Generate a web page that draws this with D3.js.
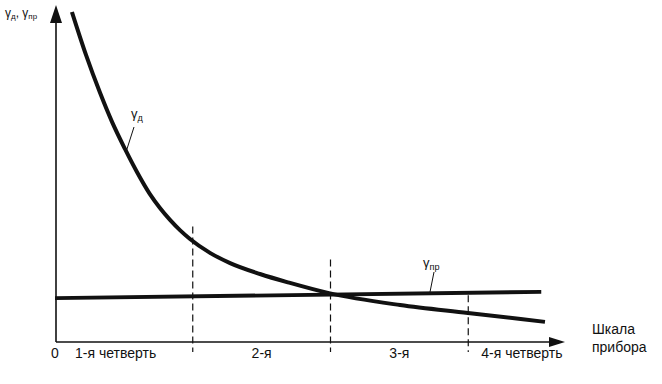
<!DOCTYPE html>
<html>
<head>
<meta charset="utf-8">
<script src="https://cdn.jsdelivr.net/npm/d3@7"></script>
<style>
  body { margin: 0; background: #fff; }
  text { font-family: "Liberation Sans", Arial, sans-serif; fill: #111; }
</style>
</head>
<body>
<svg></svg>
<script>
const width = 662;
const height = 384;

// gamma_d curve, x in quarters of the scale, y in relative units
const gdX = [0.123, 0.225, 0.327, 0.414, 0.508, 0.595, 0.689, 0.762, 0.835, 0.907, 0.98, 1.125, 1.271, 1.488, 1.706, 1.989, 2.505, 2.998, 3.557];
const gdY = [10.0, 8.70, 7.55, 6.67, 5.85, 5.15, 4.48, 4.06, 3.70, 3.39, 3.12, 2.70, 2.39, 2.06, 1.79, 1.48, 1.12, 0.88, 0.61];
// gamma_pr line
const gpX = [0, 3.53];
const gpY = [1.33, 1.52];
// quarter boundaries and top of each dashed divider
const dividers = [1, 2, 3];
const dividerTops = [3.5, 2.5, 1.42];
const quarterLabels = ['1-я четверть', '2-я', '3-я', '4-я четверть'];

const svg = d3.select('svg').attr('width', width).attr('height', height);

const x = d3.scaleLinear().domain([0, 4]).range([55, 606]);
const y = d3.scaleLinear().domain([0, 10]).range([342, 12]);

const line = d3.line()
    .x(d => x(d[0]))
    .y(d => y(d[1]))
    .curve(d3.curveMonotoneX);

// dashed dividers
svg.append('g').selectAll('line').data(dividers)
    .enter().append('line')
    .attr('x1', d => x(d)).attr('x2', d => x(d))
    .attr('y1', (d, i) => y(dividerTops[i]))
    .attr('y2', y(-0.3))
    .attr('stroke', '#111')
    .attr('stroke-width', 1.2)
    .attr('stroke-dasharray', '7,4');

// axes with arrows
const ax = svg.append('g').attr('stroke', '#111').attr('stroke-width', 1.6);
ax.append('line').attr('x1', x(0) + 1).attr('x2', x(0) + 1).attr('y1', y(0)).attr('y2', 20);
ax.append('line').attr('x1', x(0) + 1).attr('x2', 552).attr('y1', y(0)).attr('y2', y(0));
svg.append('path')
    .attr('d', `M${x(0) + 1},5 L${x(0) - 5},23 L${x(0) + 7},23 Z`)
    .attr('fill', '#111');
svg.append('path')
    .attr('d', `M565,${y(0)} L549,${y(0) - 5} L549,${y(0) + 5} Z`)
    .attr('fill', '#111');

// gamma_pr
svg.append('path')
    .datum(gpX.map((v, i) => [v, gpY[i]]))
    .attr('d', line)
    .attr('fill', 'none')
    .attr('stroke', '#111')
    .attr('stroke-width', 3.8);

// gamma_d
svg.append('path')
    .datum(gdX.map((v, i) => [v, gdY[i]]))
    .attr('d', line)
    .attr('fill', 'none')
    .attr('stroke', '#111')
    .attr('stroke-width', 4);

// curve labels with leaders
function gammaLabel(px, py, sub, size) {
    const t = svg.append('text').attr('x', px).attr('y', py).attr('font-size', size);
    t.append('tspan').text('γ');
    t.append('tspan').attr('font-size', size * 0.7).attr('dy', 3).text(sub);
    return t;
}
gammaLabel(131, 118, 'д', 13);
svg.append('line').attr('x1', 134).attr('y1', 127).attr('x2', 126).attr('y2', 152)
    .attr('stroke', '#111').attr('stroke-width', 1);
gammaLabel(423, 267, 'пр', 13);
svg.append('line').attr('x1', 434).attr('y1', 272).attr('x2', 430).attr('y2', 292)
    .attr('stroke', '#111').attr('stroke-width', 1);

// y axis title
const yt = svg.append('text').attr('x', 5).attr('y', 17).attr('font-size', 12);
yt.append('tspan').text('γ');
yt.append('tspan').attr('font-size', 8).attr('dy', 2).text('д');
yt.append('tspan').attr('dy', -2).text(', γ');
yt.append('tspan').attr('font-size', 8).attr('dy', 2).text('пр');

// bottom labels
svg.append('text').attr('x', x(0)).attr('y', 358).attr('font-size', 14)
    .attr('text-anchor', 'middle').text('0');
svg.append('g').selectAll('text').data(quarterLabels)
    .enter().append('text')
    .attr('x', (d, i) => i === 0 ? x(0) + 20 : i === 3 ? x(3) + 13 : x(i + 0.5))
    .attr('y', 358)
    .attr('font-size', 14)
    .attr('text-anchor', (d, i) => i === 0 || i === 3 ? 'start' : 'middle')
    .text(d => d);

svg.append('text').attr('x', 592).attr('y', 334).attr('font-size', 14).text('Шкала');
svg.append('text').attr('x', 592).attr('y', 352).attr('font-size', 14).text('прибора');
</script>
</body>
</html>
